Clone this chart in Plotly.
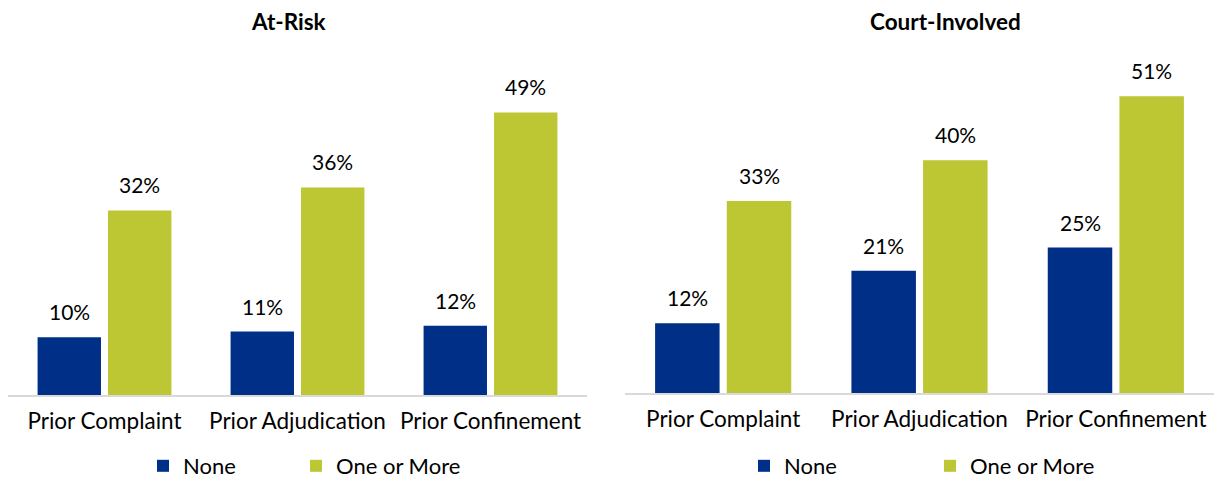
import plotly.graph_objects as go

categories = ["Prior Complaint", "Prior Adjudication", "Prior Confinement"]
series_names = ["None", "One or More"]
at_risk_none = [10, 11, 12]
at_risk_more = [32, 36, 49]
court_none = [12, 21, 25]
court_more = [33, 40, 51]
panel_titles = ["At-Risk", "Court-Involved"]

NAVY = "#002F87"
GREEN = "#BDC633"
FONT = "Lato"
BARGAP = 0.27
GROUPGAP = 0.1

fig = go.Figure()
xs = list(range(len(categories)))

panels = [
    ("x", "y", ("legend", "legend2"), at_risk_none, at_risk_more),
    ("x2", "y2", ("legend3", "legend4"), court_none, court_more),
]
annotations = []
for xa, ya, lgs, none_vals, more_vals in panels:
    for name, vals, col, lg in [(series_names[0], none_vals, NAVY, lgs[0]),
                                (series_names[1], more_vals, GREEN, lgs[1])]:
        fig.add_trace(go.Bar(
            x=xs, y=vals, name=name, marker_color=col, marker_line_width=0,
            xaxis=xa, yaxis=ya, legend=lg, hoverinfo="skip",
        ))
    w = 1 - BARGAP
    for i in xs:
        for off, v in [(-w / 4, none_vals[i]), (w / 4, more_vals[i])]:
            annotations.append(dict(
                x=i + off, y=v, xref=xa, yref=ya, text=f"{v}%", showarrow=False,
                xanchor="center", yanchor="bottom", yshift=11,
                font=dict(family=FONT, size=21, color="#000"),
            ))

for tx, title in [(289, panel_titles[0]), (945, panel_titles[1])]:
    annotations.append(dict(x=tx / 1216, y=1 - 22 / 478, xref="paper", yref="paper",
                            text=f"<b>{title}</b>", showarrow=False,
                            xanchor="center", yanchor="middle",
                            font=dict(family=FONT, size=22.5, color="#000")))

xcommon = dict(
    tickmode="array", tickvals=xs, ticktext=categories, range=[-0.5, 2.5],
    showline=True, linecolor="#D9D9D9", linewidth=2, showgrid=False, zeroline=False,
    ticks="", ticklabelstandoff=5, tickfont=dict(family=FONT, size=22.5, color="#000"),
    fixedrange=True,
)
ycommon = dict(range=[0, 60], showticklabels=False, showgrid=False, zeroline=False,
               showline=False, fixedrange=True)

legcommon = dict(orientation="h", xanchor="left", yanchor="middle",
                 y=1 - 466 / 478,
                 font=dict(family=FONT, size=22, color="#000"),
                 itemwidth=30, bgcolor="rgba(0,0,0,0)", tracegroupgap=0)

fig.update_layout(
    width=1216, height=478,
    margin=dict(l=0, r=0, t=0, b=0, autoexpand=False),
    paper_bgcolor="white", plot_bgcolor="white",
    barmode="group", bargap=BARGAP, bargroupgap=GROUPGAP,
    xaxis=dict(domain=[8 / 1216, 587 / 1216], anchor="y", **xcommon),
    yaxis=dict(domain=[1 - 395 / 478, 1 - 49 / 478], anchor="x", **ycommon),
    xaxis2=dict(domain=[625 / 1216, 1214 / 1216], anchor="y2", **xcommon),
    yaxis2=dict(domain=[1 - 393 / 478, 1 - 44 / 478], anchor="x2", **ycommon),
    legend=dict(x=143 / 1216, **legcommon),
    legend2=dict(x=296 / 1216, **legcommon),
    legend3=dict(x=744 / 1216, **legcommon),
    legend4=dict(x=930 / 1216, **legcommon),
    annotations=annotations,
    showlegend=True,
)

fig.write_html("out.html", config={"displayModeBar": False},
               post_script="document.body.style.margin='0';")
